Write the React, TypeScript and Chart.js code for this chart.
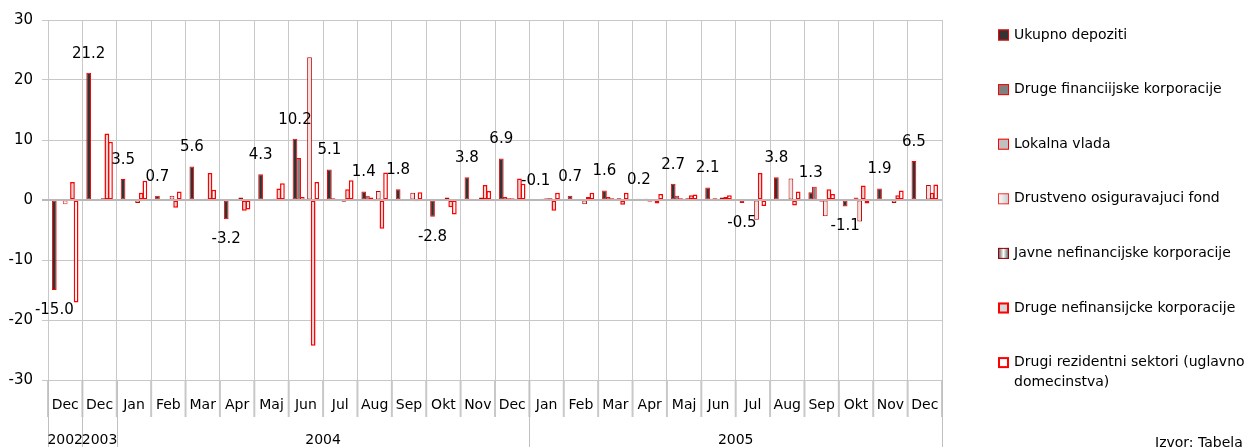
import React, { useEffect, useRef } from 'react';
import { Chart, registerables } from 'chart.js';

Chart.register(...registerables);

const FONT = '"DejaVu Sans", Verdana, sans-serif';

const months = ['Dec', 'Dec', 'Jan', 'Feb', 'Mar', 'Apr', 'Maj', 'Jun', 'Jul', 'Aug', 'Sep', 'Okt', 'Nov', 'Dec', 'Jan', 'Feb', 'Mar', 'Apr', 'Maj', 'Jun', 'Jul', 'Aug', 'Sep', 'Okt', 'Nov', 'Dec'];
const years = ['2002', '2003', '2004', '2004', '2004', '2004', '2004', '2004', '2004', '2004', '2004', '2004', '2004', '2004', '2005', '2005', '2005', '2005', '2005', '2005', '2005', '2005', '2005', '2005', '2005', '2005'];
const yTicks = [-30, -20, -10, 0, 10, 20, 30];

const ukupno = [-15.0, 21.2, 3.5, 0.7, 5.6, -3.2, 4.3, 10.2, 5.1, 1.4, 1.8, -2.8, 3.8, 6.9, -0.1, 0.7, 1.6, 0.2, 2.7, 2.1, -0.5, 3.8, 1.3, -1.1, 1.9, 6.5];
const drugeFin = [0, 0, 0, 0, 0, 0, 0, 7.0, 0.3, 0.7, 0, 0, 0.2, 0.5, 0, 0, 0.5, 0, 0.7, 0.2, 0, 0, 2.2, 0, 0, 0];
const lokalna = [0, 0, 0, 0, 0.1, 0, 0, 0.5, 0.1, 0.4, 0, 0, 0, 0.3, 0.2, 0, 0.3, 0.2, 0.3, 0.3, 0, 0.1, 0, 0, 0, 0];
const drustveno = [-0.7, 0, 0, 0, 0.1, 0, 0, 0, 0.1, -0.2, 0, 0, 0.1, 0.3, 0.3, 0, 0.2, -0.3, 0.2, 0.2, 0, 0, -0.3, 0.4, 0, 0];
const javne = [0, 0.3, -0.5, 0.7, 0.2, 0.4, 0.2, 23.8, -0.3, 1.5, 1.2, 0.4, 0.4, 0.2, 0.3, -0.7, 0.3, -0.2, 0.3, 0.4, -3.3, 3.6, -2.7, -3.6, -0.5, 2.5];
const drugeNefin = [3.0, 11.1, 1.2, -1.3, 4.5, -1.8, 1.9, -24.3, 1.8, -4.8, -0.2, -1.2, 2.5, 3.6, -1.8, 0.5, -0.8, -0.6, 0.8, 0.5, 4.5, -0.9, 1.8, 2.4, 0.8, 1.2];
const drugiRez = [-17.1, 9.7, 3.2, 1.4, 1.7, -1.6, 2.8, 3.0, 3.3, 4.6, 1.3, -2.4, 1.5, 2.7, 1.2, 1.2, 1.2, 1.0, 0.9, 0.8, -1.0, 1.4, 1.0, -0.6, 1.6, 2.6];

const seriesLabels = [
  'Ukupno depoziti',
  'Druge financiijske korporacije',
  'Lokalna vlada',
  'Drustveno osiguravajuci fond',
  'Javne nefinancijske korporacije',
  'Druge nefinansijcke korporacije',
  'Drugi rezidentni sektori (uglavno domecinstva)',
];
const sourceText = 'Izvor: Tabela';

const fills = ['#333333', '#808080', '#c0c0c0', '#f6f6f6', '#f0e0e0', '#d8d8d8', '#ffffff'];
const borders = ['#ff0000', '#ff0000', '#ff0000', '#ff3030', '#c00000', '#ff0000', '#ff0000'];
const borderWidths = [1, 1, 1, 1, 1, 1.5, 1.5];

const overlay = {
  id: 'overlay',
  afterDatasetsDraw(chart: any) {
    const { ctx, chartArea, scales } = chart;
    const y0 = scales.y.getPixelForValue(0);
    ctx.save();
    ctx.strokeStyle = '#b8b8b8';
    ctx.lineWidth = 2;
    ctx.beginPath();
    ctx.moveTo(chartArea.left - 6, y0);
    ctx.lineTo(chartArea.right, y0);
    ctx.stroke();

    const meta = chart.getDatasetMeta(0);
    ctx.font = '15px ' + FONT;
    ctx.fillStyle = '#000';
    ctx.textAlign = 'center';
    ctx.textBaseline = 'middle';
    meta.data.forEach((bar: any, i: number) => {
      const v = ukupno[i];
      const below = v < -0.15;
      ctx.fillText(v.toFixed(1), bar.x, below ? bar.y + 20 : bar.y - 19);
    });
    ctx.restore();
  },
  afterDraw(chart: any) {
    const { ctx, chartArea } = chart;
    const n = months.length;
    const w = (chartArea.right - chartArea.left) / n;
    const bottom = chartArea.bottom;
    ctx.save();
    ctx.strokeStyle = '#c8c8c8';
    ctx.lineWidth = 2;
    for (let i = 0; i <= n; i++) {
      const x = chartArea.left + i * w;
      ctx.beginPath();
      ctx.moveTo(x, bottom);
      ctx.lineTo(x, bottom + 37);
      ctx.stroke();
    }
    const groups: { label: string; start: number; end: number }[] = [];
    years.forEach((y, i) => {
      const g = groups[groups.length - 1];
      if (g && g.label === y) g.end = i + 1;
      else groups.push({ label: y, start: i, end: i + 1 });
    });
    ctx.strokeStyle = '#c0c0c0';
    ctx.lineWidth = 1;
    const seps = new Set<number>();
    groups.forEach((g) => { seps.add(g.start); seps.add(g.end); });
    seps.forEach((i) => {
      const x = Math.round(chartArea.left + i * w) + 0.5;
      ctx.beginPath();
      ctx.moveTo(x, bottom);
      ctx.lineTo(x, chart.height);
      ctx.stroke();
    });
    ctx.font = '14px ' + FONT;
    ctx.fillStyle = '#000';
    ctx.textAlign = 'center';
    ctx.textBaseline = 'middle';
    groups.forEach((g) => {
      const cx = chartArea.left + ((g.start + g.end) / 2) * w;
      ctx.fillText(g.label, cx, 440);
    });

    const lx = 998;
    const tx = 1014;
    const top = 35;
    const step = 54.6;
    ctx.textAlign = 'left';
    chart.data.datasets.forEach((ds: any, i: number) => {
      const cy = top + i * step;
      const bw = i >= 5 ? 2 : 1;
      let fill: any = fills[i];
      if (i === 3) {
        const gr = ctx.createLinearGradient(lx, 0, lx + 11, 0);
        gr.addColorStop(0, '#ffffff');
        gr.addColorStop(1, '#c8c8c8');
        fill = gr;
      } else if (i === 4) {
        const gr = ctx.createLinearGradient(lx, 0, lx + 11, 0);
        gr.addColorStop(0, '#505050');
        gr.addColorStop(0.5, '#ffffff');
        gr.addColorStop(1, '#505050');
        fill = gr;
      }
      ctx.fillStyle = fill;
      ctx.fillRect(lx, cy - 5.5, 11, 11);
      ctx.strokeStyle = i === 4 ? '#990000' : borders[i];
      ctx.lineWidth = bw;
      ctx.strokeRect(lx + bw / 2, cy - 5.5 + bw / 2, 11 - bw, 11 - bw);
      ctx.fillStyle = '#000';
      ctx.font = '14px ' + FONT;
      const words = String(ds.label).split(' ');
      const lines: string[] = [];
      let cur = '';
      words.forEach((wd) => {
        const test = cur ? cur + ' ' + wd : wd;
        if (ctx.measureText(test).width > 250 && cur) {
          lines.push(cur);
          cur = wd;
        } else cur = test;
      });
      if (cur) lines.push(cur);
      lines.forEach((ln, k) => ctx.fillText(ln, tx, cy + k * 20));
    });
    ctx.textBaseline = 'alphabetic';
    ctx.fillText(sourceText, 1155, 447);
    ctx.restore();
  },
};

export default function App() {
  const ref = useRef<HTMLCanvasElement | null>(null);
  useEffect(() => {
    if (!ref.current) return;
    Chart.defaults.font.family = FONT;
    Chart.defaults.color = '#000';
    const seriesData = [ukupno, drugeFin, lokalna, drustveno, javne, drugeNefin, drugiRez];
    const chart = new Chart(ref.current, {
      type: 'bar',
      data: {
        labels: months,
        datasets: seriesData.map((d, i) => ({
          label: seriesLabels[i],
          data: d,
          backgroundColor: fills[i],
          borderColor: borders[i],
          borderWidth: borderWidths[i],
          borderSkipped: false,
          categoryPercentage: 0.74,
          barPercentage: 1.3,
        })),
      },
      options: {
        animation: false,
        responsive: true,
        maintainAspectRatio: false,
        devicePixelRatio: 1,
        layout: { padding: { top: 20, right: 316, left: 0, bottom: 0 } },
        plugins: { legend: { display: false }, tooltip: { enabled: false } },
        scales: {
          x: {
            type: 'category',
            offset: true,
            grid: { offset: true, color: '#c8c8c8', drawTicks: false },
            border: { display: false },
            ticks: { font: { size: 14, family: FONT }, color: '#000', padding: 17, maxRotation: 0, autoSkip: false },
            afterFit: (s: any) => { s.height = 67; },
          },
          y: {
            min: -30,
            max: 30,
            afterBuildTicks: (s: any) => { s.ticks = yTicks.map((v) => ({ value: v })); },
            grid: { color: '#c8c8c8', tickLength: 6 },
            border: { display: false },
            ticks: { font: { size: 15, family: FONT }, color: '#000', padding: 9 },
            afterFit: (s: any) => { s.width = 48; },
          },
        },
      },
      plugins: [overlay],
    } as any);
    return () => chart.destroy();
  }, []);
  return (
    <div style={{ position: 'absolute', left: 0, top: 0, width: 1258, height: 447 }}>
      <canvas ref={ref} />
    </div>
  );
}
